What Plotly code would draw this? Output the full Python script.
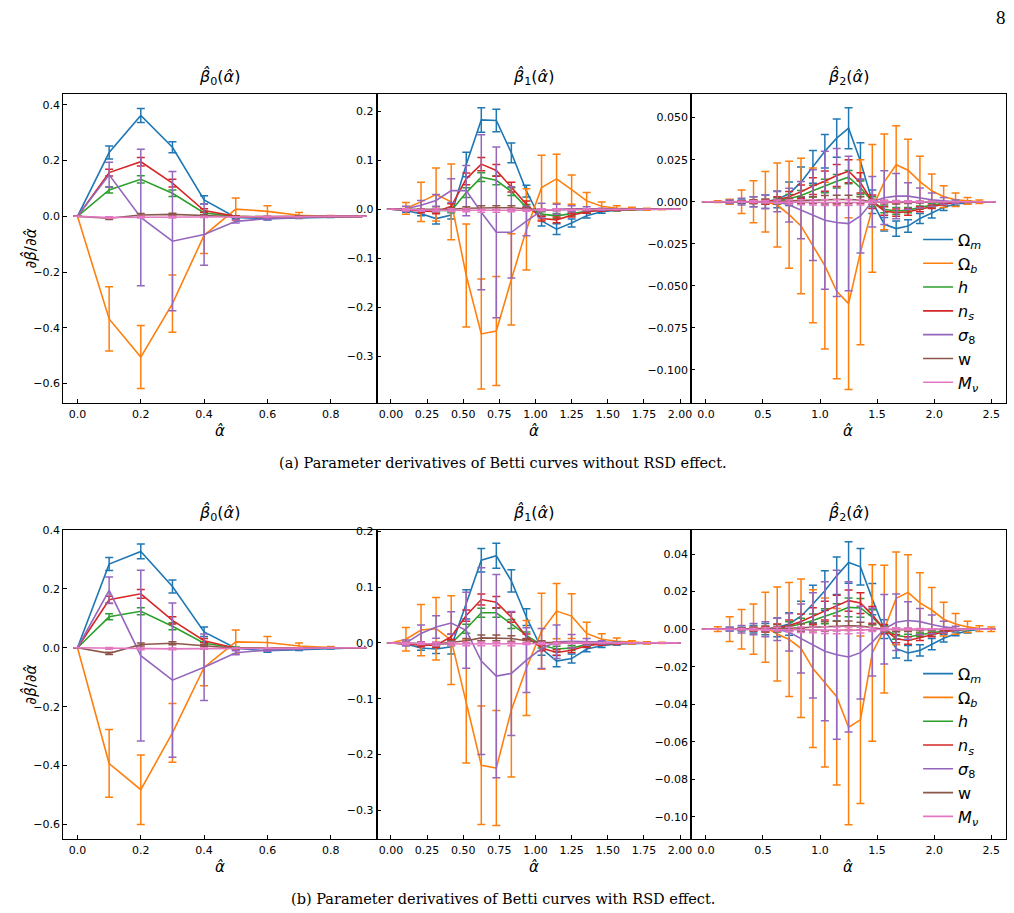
import plotly.graph_objects as go

# ---------------- x grids (alpha hat) ----------------
X_B0 = [0.0, 0.1, 0.2, 0.3, 0.4, 0.5, 0.6, 0.7, 0.8, 0.9]
X_B1 = [0.0, 0.104, 0.208, 0.3125, 0.417, 0.521, 0.625, 0.729, 0.833, 0.9375,
        1.042, 1.146, 1.25, 1.354, 1.458, 1.5625, 1.667, 1.771, 1.875, 1.979]
X_B2 = [0.0, 0.104, 0.208, 0.3125, 0.417, 0.521, 0.625, 0.729, 0.833, 0.9375,
        1.042, 1.146, 1.25, 1.354, 1.458, 1.5625, 1.667, 1.771, 1.875, 1.979,
        2.083, 2.1875, 2.292, 2.396, 2.5]

PARAM_LABELS = ["Ω<sub><i>m</i></sub>", "Ω<sub><i>b</i></sub>", "<i>h</i>",
                "<i>n</i><sub><i>s</i></sub>", "<i>σ</i><sub>8</sub>", "w",
                "<i>M</i><sub><i>ν</i></sub>"]
COLORS = ["#1f77b4", "#ff7f0e", "#2ca02c", "#d62728", "#9467bd", "#8c564b", "#e377c2"]

# ================= (a) without RSD =================
# beta_0
a0_Om = [0, 0.229, 0.362, 0.248, 0.059, -0.004, -0.008, -0.005, -0.002, 0]
a0_Om_e = [0, 0.023, 0.025, 0.020, 0.015, 0.004, 0.005, 0.003, 0.002, 0]
a0_Ob = [0, -0.368, -0.505, -0.313, -0.068, 0.026, 0.018, 0.004, 0.0, 0]
a0_Ob_e = [0, 0.115, 0.113, 0.103, 0.065, 0.040, 0.020, 0.010, 0.003, 0]
a0_h = [0, 0.095, 0.133, 0.083, 0.012, 0.0, -0.002, -0.001, 0, 0]
a0_h_e = [0, 0.011, 0.013, 0.012, 0.005, 0.002, 0.001, 0.001, 0, 0]
a0_ns = [0, 0.157, 0.196, 0.119, 0.021, 0.0, -0.002, -0.001, 0, 0]
a0_ns_e = [0, 0.012, 0.015, 0.014, 0.006, 0.002, 0.001, 0.001, 0, 0]
a0_s8 = [0, 0.149, -0.004, -0.089, -0.065, -0.018, -0.008, -0.003, 0, 0]
a0_s8_e = [0, 0.045, 0.245, 0.250, 0.110, 0.006, 0.004, 0.002, 0.001, 0]
a0_w = [0, -0.007, 0.005, 0.007, 0.003, -0.002, -0.001, 0, 0, 0]
a0_w_e = [0, 0.004, 0.005, 0.004, 0.003, 0.002, 0.001, 0, 0, 0]
a0_Mn = [0, -0.004, -0.003, -0.003, -0.002, -0.002, -0.001, -0.001, 0, 0]
a0_Mn_e = [0, 0.003, 0.003, 0.003, 0.002, 0.001, 0.001, 0, 0, 0]

# beta_1
a1_Om = [0, -0.003, -0.009, -0.019, -0.012, 0.091, 0.182, 0.181, 0.115, 0.037,
         -0.024, -0.0405, -0.028, -0.013, -0.005, -0.002, -0.001, 0, 0, 0]
a1_Om_e = [0, 0.003, 0.004, 0.011, 0.008, 0.025, 0.025, 0.023, 0.020, 0.012,
           0.010, 0.011, 0.008, 0.005, 0.003, 0.002, 0.001, 0.001, 0, 0]
a1_Ob = [0, 0.002, 0.015, 0.030, 0.015, -0.135, -0.254, -0.248, -0.143, -0.041,
         0.044, 0.062, 0.040, 0.017, 0.006, 0.002, 0.001, 0, 0, 0]
a1_Ob_e = [0, 0.012, 0.040, 0.054, 0.077, 0.105, 0.112, 0.111, 0.093, 0.083,
           0.066, 0.050, 0.030, 0.017, 0.009, 0.005, 0.003, 0.002, 0.001, 0]
a1_h = [0, -0.001, -0.002, -0.003, -0.003, 0.034, 0.0655, 0.059, 0.036, 0.0035,
        -0.010, -0.0135, -0.009, -0.004, -0.002, -0.001, 0, 0, 0, 0]
a1_h_e = [0, 0.002, 0.003, 0.003, 0.004, 0.010, 0.009, 0.009, 0.008, 0.006,
          0.005, 0.005, 0.004, 0.003, 0.002, 0.001, 0.001, 0, 0, 0]
a1_ns = [0, -0.002, -0.004, -0.005, 0.006, 0.062, 0.092, 0.079, 0.045, 0.010,
         -0.019, -0.0216, -0.012, -0.005, -0.002, -0.001, 0, 0, 0, 0]
a1_ns_e = [0, 0.002, 0.003, 0.004, 0.005, 0.012, 0.0135, 0.012, 0.010, 0.007,
           0.005, 0.006, 0.004, 0.003, 0.002, 0.001, 0, 0, 0, 0]
a1_s8 = [0, 0.001, 0.008, 0.018, 0.038, 0.038, -0.006, -0.047, -0.047, -0.024,
         -0.003, 0.0, 0.001, 0.001, 0, 0, 0, 0, 0, 0]
a1_s8_e = [0, 0.005, 0.010, 0.012, 0.024, 0.051, 0.158, 0.174, 0.093, 0.030,
           0.015, 0.010, 0.006, 0.004, 0.002, 0.001, 0, 0, 0, 0]
a1_w = [0, 0, -0.001, -0.001, 0, 0.002, 0.003, 0.003, 0.003, 0.001,
        -0.001, -0.001, 0, 0, 0, 0, 0, 0, 0, 0]
a1_w_e = [0, 0.001, 0.002, 0.003, 0.003, 0.003, 0.004, 0.004, 0.004, 0.003,
          0.002, 0.002, 0.001, 0.001, 0, 0, 0, 0, 0, 0]
a1_Mn = [0, -0.001, -0.002, -0.002, -0.002, -0.002, -0.003, -0.003, -0.002, -0.002,
         -0.001, -0.001, -0.001, 0, 0, 0, 0, 0, 0, 0]
a1_Mn_e = [0, 0.002, 0.002, 0.003, 0.003, 0.003, 0.003, 0.003, 0.003, 0.002,
           0.002, 0.002, 0.001, 0.001, 0, 0, 0, 0, 0, 0]

# beta_2
a2_Om = [0, 0, 0, 0, 0, 0, 0.0014, 0.0047, 0.0116, 0.0207, 0.030, 0.0378, 0.0437,
         0.024, 0.0, -0.0134, -0.016, -0.0145, -0.010, -0.0067, -0.0033, -0.0014,
         -0.0005, 0, 0]
a2_Om_e = [0, 0, 0.001, 0.001, 0.003, 0.004, 0.005, 0.007, 0.009, 0.0097, 0.010,
           0.0114, 0.0122, 0.011, 0.007, 0.004, 0.0046, 0.0037, 0.003, 0.003, 0.002,
           0.001, 0.001, 0, 0]
a2_Ob = [0, 0, 0, 0, 0, 0, -0.002, -0.0077, -0.0144, -0.026, -0.038, -0.0533,
         -0.0606, -0.030, -0.004, 0.0118, 0.022, 0.0187, 0.012, 0.0065, 0.003,
         0.0012, 0.0005, 0, 0]
a2_Ob_e = [0, 0.0005, 0.0015, 0.007, 0.0125, 0.018, 0.025, 0.0318, 0.0403, 0.046,
           0.0496, 0.052, 0.051, 0.055, 0.038, 0.0285, 0.0231, 0.0184, 0.015, 0.010,
           0.0065, 0.004, 0.002, 0.001, 0]
a2_h = [0, 0, 0, 0, 0, 0, 0.0005, 0.0018, 0.0037, 0.0063, 0.0093, 0.0122, 0.0146,
        0.0083, 0.0, -0.0045, -0.0055, -0.005, -0.0035, -0.002, -0.001, -0.0004, 0, 0, 0]
a2_h_e = [0, 0, 0, 0.0005, 0.001, 0.0015, 0.002, 0.0025, 0.003, 0.0035, 0.004, 0.004,
          0.004, 0.004, 0.003, 0.002, 0.002, 0.0015, 0.001, 0.001, 0.0005, 0, 0, 0, 0]
a2_ns = [0, 0, 0, 0, 0, 0, 0.001, 0.003, 0.0059, 0.0093, 0.0122, 0.0156, 0.0181,
         0.0112, 0.0, -0.0055, -0.0065, -0.006, -0.0045, -0.003, -0.0015, -0.0005, 0, 0, 0]
a2_ns_e = [0, 0, 0, 0.0005, 0.001, 0.0015, 0.002, 0.003, 0.004, 0.005, 0.006, 0.0065,
           0.0069, 0.006, 0.004, 0.0025, 0.0022, 0.002, 0.0015, 0.001, 0.0005, 0, 0, 0, 0]
a2_s8 = [0, 0, 0, 0, 0, 0, 0, -0.002, -0.005, -0.008, -0.011, -0.0124, -0.013,
         -0.0085, 0.0, 0.0024, 0.0033, 0.0033, 0.0022, 0.0012, 0.0005, 0, 0, 0, 0]
a2_s8_e = [0, 0, 0.001, 0.002, 0.003, 0.004, 0.006, 0.010, 0.017, 0.027, 0.041, 0.044,
           0.040, 0.022, 0.015, 0.016, 0.0135, 0.008, 0.006, 0.004, 0.002, 0.001, 0, 0, 0]
a2_w = [0, 0, 0, 0, 0, 0, 0.0002, 0.0005, 0.0008, 0.001, 0.0012, 0.0013, 0.0013,
        0.001, 0, -0.0003, -0.0004, -0.0003, -0.0002, 0, 0, 0, 0, 0, 0]
a2_w_e = [0, 0, 0, 0.0003, 0.0005, 0.001, 0.0012, 0.0015, 0.002, 0.002, 0.0025,
          0.0025, 0.0025, 0.002, 0.0015, 0.001, 0.001, 0.0008, 0.0005, 0.0003, 0, 0, 0, 0, 0]
a2_Mn = [0, 0, 0, 0, 0, 0, 0, -0.0002, -0.0003, -0.0004, -0.0005, -0.0005, -0.0005,
         -0.0004, 0, 0.0001, 0.0001, 0.0001, 0, 0, 0, 0, 0, 0, 0]
a2_Mn_e = [0, 0, 0, 0.0003, 0.0005, 0.0007, 0.001, 0.0012, 0.0015, 0.0015, 0.0018,
           0.0018, 0.0018, 0.0015, 0.001, 0.0008, 0.0006, 0.0005, 0.0003, 0.0002, 0, 0, 0, 0, 0]

# ================= (b) with RSD =================
# beta_0
b0_Om = [0, 0.284, 0.327, 0.208, 0.054, -0.002, -0.010, -0.006, -0.002, 0]
b0_Om_e = [0, 0.022, 0.025, 0.022, 0.016, 0.004, 0.005, 0.003, 0.002, 0]
b0_Ob = [0, -0.393, -0.482, -0.289, -0.067, 0.020, 0.018, 0.006, 0.001, 0]
b0_Ob_e = [0, 0.115, 0.118, 0.100, 0.062, 0.040, 0.020, 0.010, 0.003, 0]
b0_h = [0, 0.105, 0.124, 0.073, 0.015, 0.0, -0.002, -0.001, 0, 0]
b0_h_e = [0, 0.010, 0.012, 0.012, 0.005, 0.002, 0.001, 0.001, 0, 0]
b0_ns = [0, 0.163, 0.183, 0.093, 0.024, -0.002, -0.002, -0.001, 0, 0]
b0_ns_e = [0, 0.012, 0.015, 0.012, 0.007, 0.002, 0.001, 0.001, 0, 0]
b0_s8 = [0, 0.195, -0.027, -0.110, -0.066, -0.017, -0.008, -0.004, 0, 0]
b0_s8_e = [0, 0.045, 0.290, 0.262, 0.113, 0.007, 0.004, 0.002, 0.001, 0]
b0_w = [0, -0.019, 0.011, 0.015, 0.007, -0.002, -0.002, 0, 0, 0]
b0_w_e = [0, 0.004, 0.005, 0.005, 0.003, 0.002, 0.001, 0, 0, 0]
b0_Mn = [0, -0.002, -0.004, -0.004, -0.003, -0.002, -0.001, -0.001, 0, 0]
b0_Mn_e = [0, 0.003, 0.003, 0.003, 0.002, 0.001, 0.001, 0, 0, 0]

# beta_1
b1_Om = [0, -0.002, -0.009, -0.011, -0.007, 0.069, 0.148, 0.156, 0.111, 0.046,
         -0.010, -0.0326, -0.028, -0.011, -0.005, -0.002, -0.001, 0, 0, 0]
b1_Om_e = [0, 0.003, 0.004, 0.008, 0.013, 0.026, 0.021, 0.0225, 0.020, 0.015,
           0.012, 0.010, 0.008, 0.005, 0.003, 0.002, 0.001, 0.001, 0, 0]
b1_Ob = [0, 0.0065, 0.023, 0.0255, 0.005, -0.105, -0.219, -0.224, -0.120, -0.045,
         0.021, 0.057, 0.048, 0.017, 0.0065, 0.003, 0.001, 0, 0, 0]
b1_Ob_e = [0, 0.021, 0.046, 0.056, 0.0795, 0.110, 0.106, 0.103, 0.120, 0.085,
           0.068, 0.0495, 0.040, 0.020, 0.010, 0.006, 0.003, 0.002, 0.001, 0]
b1_h = [0, -0.001, -0.002, -0.003, -0.001, 0.0255, 0.054, 0.054, 0.034, 0.0136,
        -0.004, -0.011, -0.009, -0.003, -0.001, 0, 0, 0, 0, 0]
b1_h_e = [0, 0.002, 0.003, 0.003, 0.004, 0.008, 0.008, 0.008, 0.008, 0.006,
          0.005, 0.005, 0.004, 0.003, 0.002, 0.001, 0, 0, 0, 0]
b1_ns = [0, -0.002, -0.004, -0.004, 0.011, 0.049, 0.0777, 0.073, 0.046, 0.011,
         -0.009, -0.0172, -0.013, -0.005, -0.002, -0.001, 0, 0, 0, 0]
b1_ns_e = [0, 0.002, 0.003, 0.004, 0.005, 0.010, 0.010, 0.010, 0.009, 0.005,
           0.005, 0.005, 0.004, 0.003, 0.002, 0.001, 0, 0, 0, 0]
b1_s8 = [0, 0.0, 0.017, 0.0285, 0.0356, 0.0225, -0.0326, -0.0593, -0.0546, -0.031,
         -0.010, 0.002, 0.003, 0.002, 0.001, 0, 0, 0, 0, 0]
b1_s8_e = [0, 0.005, 0.015, 0.020, 0.020, 0.068, 0.167, 0.182, 0.111, 0.058,
           0.036, 0.030, 0.012, 0.006, 0.003, 0.001, 0, 0, 0, 0]
b1_w = [0, 0, -0.001, -0.002, 0.001, 0.004, 0.009, 0.009, 0.008, 0.004,
        0.001, 0, 0, 0, 0, 0, 0, 0, 0, 0]
b1_w_e = [0, 0.001, 0.002, 0.003, 0.003, 0.004, 0.005, 0.005, 0.005, 0.004,
          0.003, 0.002, 0.001, 0.001, 0, 0, 0, 0, 0, 0]
b1_Mn = [0, -0.001, -0.001, -0.002, -0.002, -0.002, -0.002, -0.002, -0.002, -0.001,
         -0.001, -0.001, 0, 0, 0, 0, 0, 0, 0, 0]
b1_Mn_e = [0, 0.002, 0.002, 0.003, 0.003, 0.003, 0.003, 0.003, 0.003, 0.002,
           0.002, 0.002, 0.001, 0.001, 0, 0, 0, 0, 0, 0]

# beta_2
b2_Om = [0, 0, 0, 0, 0, 0, 0.001, 0.0028, 0.0069, 0.0134, 0.0205, 0.0284, 0.0355,
         0.0332, 0.016, 0.0, -0.0104, -0.0127, -0.0113, -0.008, -0.0048, -0.0025,
         -0.001, 0, 0]
b2_Om_e = [0, 0, 0.001, 0.001, 0.002, 0.003, 0.005, 0.006, 0.008, 0.010, 0.0106,
           0.010, 0.011, 0.0097, 0.0083, 0.005, 0.005, 0.004, 0.003, 0.003, 0.002,
           0.001, 0.001, 0, 0]
b2_Ob = [0, 0, 0, 0, 0, 0.001, -0.0026, -0.0055, -0.0102, -0.021, -0.0284, -0.036,
         -0.0522, -0.0483, -0.0127, 0.0, 0.0164, 0.0196, 0.014, 0.0102, 0.0053,
         0.0028, 0.0012, 0.0003, 0]
b2_Ob_e = [0, 0.0013, 0.0066, 0.0105, 0.0134, 0.0186, 0.025, 0.0304, 0.0369, 0.042,
           0.045, 0.047, 0.052, 0.0446, 0.047, 0.034, 0.0247, 0.020, 0.016, 0.012,
           0.009, 0.0055, 0.003, 0.0015, 0.0012]
b2_h = [0, 0, 0, 0, 0, 0, 0.0005, 0.0014, 0.0028, 0.0046, 0.0069, 0.009, 0.0116,
        0.0113, 0.0064, 0.0, -0.0034, -0.0042, -0.003, -0.002, -0.001, -0.0004, 0, 0, 0]
b2_h_e = [0, 0, 0, 0.0005, 0.001, 0.0015, 0.002, 0.0025, 0.003, 0.0035, 0.004, 0.0045,
          0.005, 0.005, 0.004, 0.002, 0.002, 0.0015, 0.001, 0.001, 0.0005, 0, 0, 0, 0]
b2_ns = [0, 0, 0, 0, 0, 0, 0.0008, 0.0019, 0.0041, 0.0069, 0.0099, 0.0125, 0.0152,
         0.0139, 0.0076, 0.0, -0.0051, -0.006, -0.0045, -0.003, -0.0015, -0.0005, 0, 0, 0]
b2_ns_e = [0, 0, 0, 0.0005, 0.001, 0.0015, 0.002, 0.003, 0.004, 0.0045, 0.005, 0.0055,
           0.0056, 0.0055, 0.0045, 0.0025, 0.0022, 0.002, 0.0015, 0.001, 0.0005, 0, 0, 0, 0]
b2_s8 = [0, 0, 0, 0, 0, 0, 0, -0.0016, -0.005, -0.0086, -0.0118, -0.0136, -0.0148,
         -0.0125, -0.0069, 0.0, 0.0037, 0.0046, 0.004, 0.0025, 0.0012, 0.0005, 0, 0, 0]
b2_s8_e = [0, 0, 0.001, 0.002, 0.003, 0.004, 0.006, 0.010, 0.0184, 0.028, 0.037, 0.045,
           0.040, 0.0247, 0.018, 0.0185, 0.015, 0.010, 0.007, 0.005, 0.003, 0.001, 0, 0, 0]
b2_w = [0, 0, 0, 0, 0, 0, 0.0002, 0.0005, 0.0008, 0.0012, 0.0015, 0.0017, 0.0018,
        0.0017, 0.001, 0, -0.0003, -0.0004, -0.0003, -0.0002, 0, 0, 0, 0, 0]
b2_w_e = [0, 0, 0, 0.0003, 0.0005, 0.001, 0.0012, 0.0015, 0.002, 0.002, 0.0025,
          0.0025, 0.0025, 0.002, 0.0015, 0.001, 0.001, 0.0008, 0.0005, 0.0003, 0, 0, 0, 0, 0]
b2_Mn = [0, 0, 0, 0, 0, 0, 0, -0.0002, -0.0003, -0.0004, -0.0005, -0.0006, -0.0006,
         -0.0005, -0.0002, 0, 0.0001, 0.0001, 0, 0, 0, 0, 0, 0, 0]
b2_Mn_e = [0, 0, 0, 0.0003, 0.0005, 0.0007, 0.001, 0.0012, 0.0015, 0.0015, 0.0018,
           0.0018, 0.0018, 0.0015, 0.001, 0.0008, 0.0006, 0.0005, 0.0003, 0.0002, 0, 0, 0, 0, 0]

# ---------------- assemble panels ----------------
PANELS = [
    (X_B0, [a0_Om, a0_Ob, a0_h, a0_ns, a0_s8, a0_w, a0_Mn],
     [a0_Om_e, a0_Ob_e, a0_h_e, a0_ns_e, a0_s8_e, a0_w_e, a0_Mn_e]),
    (X_B1, [a1_Om, a1_Ob, a1_h, a1_ns, a1_s8, a1_w, a1_Mn],
     [a1_Om_e, a1_Ob_e, a1_h_e, a1_ns_e, a1_s8_e, a1_w_e, a1_Mn_e]),
    (X_B2, [a2_Om, a2_Ob, a2_h, a2_ns, a2_s8, a2_w, a2_Mn],
     [a2_Om_e, a2_Ob_e, a2_h_e, a2_ns_e, a2_s8_e, a2_w_e, a2_Mn_e]),
    (X_B0, [b0_Om, b0_Ob, b0_h, b0_ns, b0_s8, b0_w, b0_Mn],
     [b0_Om_e, b0_Ob_e, b0_h_e, b0_ns_e, b0_s8_e, b0_w_e, b0_Mn_e]),
    (X_B1, [b1_Om, b1_Ob, b1_h, b1_ns, b1_s8, b1_w, b1_Mn],
     [b1_Om_e, b1_Ob_e, b1_h_e, b1_ns_e, b1_s8_e, b1_w_e, b1_Mn_e]),
    (X_B2, [b2_Om, b2_Ob, b2_h, b2_ns, b2_s8, b2_w, b2_Mn],
     [b2_Om_e, b2_Ob_e, b2_h_e, b2_ns_e, b2_s8_e, b2_w_e, b2_Mn_e]),
]

W, H = 1014, 913
COL_PX = [(63.3, 377.0), (377.0, 692.0), (692.0, 1006.5)]
ROW_PX = [(88.3, 400.0), (527.3, 839.0)]

X_RANGES = [[-0.045, 0.945], [-0.099, 2.078], [-0.128, 2.625]]
Y_RANGES = [[[-0.671, 0.44], [-0.3955, 0.2354], [-0.1199, 0.0642]],
            [[-0.651, 0.4003], [-0.352, 0.2025], [-0.112, 0.0529]]]
X_DTICK = [0.2, 0.25, 0.5]
X_FMT = [".1f", ".2f", ".1f"]
Y_DTICK = [[0.2, 0.1, 0.025], [0.2, 0.1, 0.02]]
Y_FMT = [[".1f", ".1f", ".3f"], [".1f", ".1f", ".2f"]]
TITLES = ["<i>β̂</i><sub>0</sub>(<i>α̂</i>)", "<i>β̂</i><sub>1</sub>(<i>α̂</i>)",
          "<i>β̂</i><sub>2</sub>(<i>α̂</i>)"]
CAPTIONS = ["(a) Parameter derivatives of Betti curves without RSD effect.",
            "(b) Parameter derivatives of Betti curves with RSD effect."]

FONT = "DejaVu Sans"
fig = go.Figure()
annotations = []
layout_axes = {}

for r in range(2):
    for c in range(3):
        n = r * 3 + c + 1
        sfx = "" if n == 1 else str(n)
        xs, vals, errs = PANELS[n - 1]
        for k in range(7):
            fig.add_trace(go.Scatter(
                x=xs, y=vals[k], mode="lines", name=PARAM_LABELS[k],
                line=dict(color=COLORS[k], width=1.6),
                error_y=dict(type="data", array=errs[k], visible=True,
                             color=COLORS[k], thickness=1.5, width=4),
                xaxis="x" + sfx, yaxis="y" + sfx,
                showlegend=(c == 2),
                legend="legend" if r == 0 else "legend2",
            ))
        x0, x1 = COL_PX[c]
        y0, y1 = ROW_PX[r]
        common = dict(showgrid=False, zeroline=False, showline=True, mirror=True,
                      linecolor="black", linewidth=1, ticks="inside", ticklen=4,
                      tickwidth=1, tickcolor="black",
                      tickfont=dict(family=FONT, size=11, color="black"))
        layout_axes["xaxis" + sfx] = dict(
            domain=[x0 / W, x1 / W], range=X_RANGES[c], anchor="y" + sfx,
            dtick=X_DTICK[c], tick0=0, tickformat=X_FMT[c], **common)
        layout_axes["yaxis" + sfx] = dict(
            domain=[1 - y1 / H, 1 - y0 / H], range=Y_RANGES[r][c], anchor="x" + sfx,
            dtick=Y_DTICK[r][c], tick0=0, tickformat=Y_FMT[r][c], **common)
        cx = (x0 + x1) / 2 / W
        annotations.append(dict(text=TITLES[c], x=cx, y=1 - (y0 - 4) / H,
                                xref="paper", yref="paper", xanchor="center",
                                yanchor="bottom", showarrow=False,
                                font=dict(family=FONT, size=16, color="black")))
        annotations.append(dict(text="<i>α̂</i>", x=cx, y=1 - (y1 + 17) / H,
                                xref="paper", yref="paper", xanchor="center",
                                yanchor="top", showarrow=False,
                                font=dict(family=FONT, size=15, color="black")))
    annotations.append(dict(text="∂<i>β̂</i>/∂<i>α̂</i>", x=30 / W,
                            y=1 - (ROW_PX[r][0] + ROW_PX[r][1]) / 2 / H,
                            xref="paper", yref="paper", xanchor="center",
                            yanchor="middle", textangle=-90, showarrow=False,
                            font=dict(family=FONT, size=15, color="black")))
    annotations.append(dict(text=CAPTIONS[r], x=503 / W,
                            y=1 - (ROW_PX[r][1] + 60) / H,
                            xref="paper", yref="paper", xanchor="center",
                            yanchor="middle", showarrow=False,
                            font=dict(family="DejaVu Serif", size=14.5, color="black")))

annotations.append(dict(text="8", x=1002 / W, y=1 - 12 / H, xref="paper", yref="paper",
                        xanchor="center", yanchor="middle", showarrow=False,
                        font=dict(family="Liberation Serif", size=19, color="black")))

legend_common = dict(xanchor="left", yanchor="top", bgcolor="rgba(0,0,0,0)",
                     borderwidth=0, font=dict(family=FONT, size=16, color="black"),
                     tracegroupgap=0, itemwidth=30)
fig.update_layout(
    width=W, height=H, autosize=False,
    margin=dict(l=0, r=0, t=0, b=0),
    paper_bgcolor="white", plot_bgcolor="white",
    annotations=annotations,
    legend=dict(x=919 / W, y=1 - 218 / H, **legend_common),
    legend2=dict(x=919 / W, y=1 - 655 / H, **legend_common),
    **layout_axes,
)

fig.write_html("out.html")
